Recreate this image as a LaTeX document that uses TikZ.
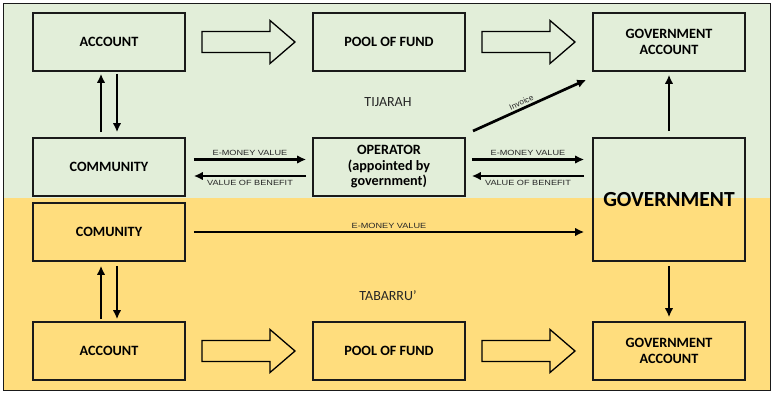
\documentclass[tikz,border=0pt]{standalone}
\usepackage{fontspec}
\setmainfont{Carlito}
\newfontfamily\arialfont{Liberation Sans}
\usetikzlibrary{arrows.meta}
\definecolor{greenbg}{HTML}{E2EED9}
\definecolor{yellowbg}{HTML}{FFDD7D}
\definecolor{linec}{HTML}{1A1A1A}
\newcommand{\widelbl}[1]{\scalebox{1.22}[1]{#1}}
\begin{document}
\begin{tikzpicture}[x=1pt,y=-1pt,
  boxg/.style={draw=linec,line width=1.6pt,fill=greenbg,minimum width=152pt,minimum height=58pt,inner sep=0pt,align=center,font=\bfseries\fontsize{14.2}{15.5}\selectfont},
  boxy/.style={boxg,fill=yellowbg},
  conn/.style={line width=2.7pt,draw=black,-{Latex[length=9pt,width=8.5pt]}},
  lbl/.style={font=\arialfont\fontsize{7.5}{9}\selectfont,text=black!85,inner sep=1pt},
  sect/.style={font=\fontsize{14}{16}\selectfont,text=black!85},
  block/.style={draw=black,line width=1.3pt,fill=none,line join=miter}]
\useasboundingbox (0,0) rectangle (772,393);
% backgrounds
\fill[greenbg] (3,3) rectangle (770,198);
\fill[yellowbg] (3,198) rectangle (770,390);
\draw[linec,line width=0.8pt] (3,3) rectangle (770,390);
% boxes
\node[boxg] (acc1) at (109,42) {ACCOUNT};
\node[boxg] (pool1) at (389,42) {POOL OF FUND};
\node[boxg] (gacc1) at (669,42) {GOVERNMENT\\ACCOUNT};
\node[boxg] (comm) at (109,167) {COMMUNITY};
\node[boxg] (oper) at (389,167) {OPERATOR\\(appointed by\\government)};
\node[boxg,fill=none,minimum height=123pt,font=\bfseries\fontsize{21.5}{24}\selectfont] (gov) at (669,199.5) {GOVERNMENT};
\node[boxy] (comu) at (109,232) {COMUNITY};
\node[boxy] (acc2) at (109,351) {ACCOUNT};
\node[boxy] (pool2) at (389,351) {POOL OF FUND};
\node[boxy] (gacc2) at (669,351) {GOVERNMENT\\ACCOUNT};
% section labels
\node[sect] (tij) at (388,102) {TIJARAH};
\node[sect] (tab) at (388,296) {TABARRU'};
% block arrows
\foreach \xs/\yc in {202/42,482/42,202/351,482/351}{
  \draw[block] (\xs,\yc-10.5) -- (\xs+68,\yc-10.5) -- (\xs+68,\yc-21.5) -- (\xs+93,\yc) -- (\xs+68,\yc+21.5) -- (\xs+68,\yc+10.5) -- (\xs,\yc+10.5) -- cycle;
}
% vertical arrows
\draw[conn] ([xshift=-8pt,yshift=5pt]comm.north) -- ([xshift=-8pt,yshift=-2pt]acc1.south);
\draw[conn] ([xshift=8pt,yshift=-2pt]acc1.south) -- ([xshift=8pt,yshift=5pt]comm.north);
\draw[conn] ([xshift=-8pt,yshift=2pt]acc2.north) -- ([xshift=-8pt,yshift=-4pt]comu.south);
\draw[conn] ([xshift=8pt,yshift=-4pt]comu.south) -- ([xshift=8pt,yshift=2pt]acc2.north);
\draw[conn] ([yshift=6pt]gov.north) -- ([yshift=-3pt]gacc1.south);
\draw[conn] ([yshift=-4pt]gov.south) -- ([yshift=4pt]gacc2.north);
% horizontal arrows
\draw[conn] ([xshift=8pt,yshift=7.5pt]comm.east) -- node[lbl,above=1.5pt]{\widelbl{E-MONEY VALUE}} ([xshift=-6pt,yshift=7.5pt]oper.west);
\draw[conn] ([xshift=-6pt,yshift=-9pt]oper.west) -- node[lbl,below=1.5pt]{\widelbl{VALUE OF BENEFIT}} ([xshift=8pt,yshift=-9pt]comm.east);
\draw[conn] ([xshift=6pt,yshift=7.5pt]oper.east) -- node[lbl,above=1.5pt]{\widelbl{E-MONEY VALUE}} ([xshift=-8pt,yshift=7.5pt]gov.west|-oper.east);
\draw[conn] ([xshift=-8pt,yshift=-9pt]gov.west|-oper.east) -- node[lbl,below=1.5pt]{\widelbl{VALUE OF BENEFIT}} ([xshift=6pt,yshift=-9pt]oper.east);
\draw[conn] ([xshift=8pt]comu.east) -- node[lbl,above=1.5pt]{\widelbl{E-MONEY VALUE}} ([xshift=-8pt]gov.west|-comu.east);
% invoice
\coordinate (invs) at (473,131);
\draw[conn] (invs) -- node[lbl,above=1pt,sloped,pos=0.45,font=\arialfont\fontsize{8}{9}\selectfont]{Invoice} ([xshift=-6pt,yshift=-8pt]gacc1.south west);
\end{tikzpicture}
\end{document}
